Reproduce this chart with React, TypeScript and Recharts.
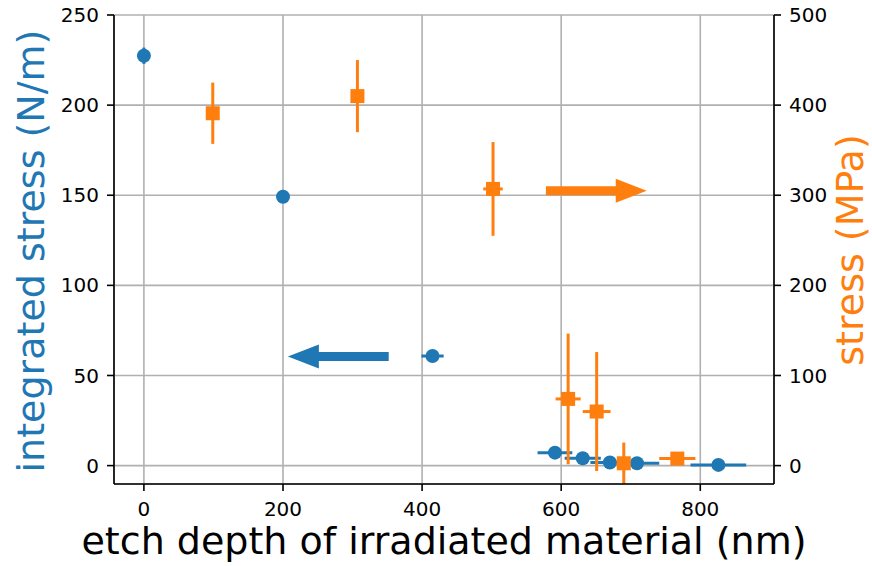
import {
  CartesianGrid,
  ErrorBar,
  ReferenceLine,
  Scatter,
  ScatterChart,
  XAxis,
  YAxis,
} from 'recharts'

const BLUE = '#1f77b4'
const ORANGE = '#ff7f0e'
const FONT = '"DejaVu Sans", sans-serif'

// integrated stress (N/m), left axis
const blueX = [0, 200, 415, 591, 631, 670, 709, 826]
const blueY = [227.4, 149.2, 60.8, 7.2, 4.1, 1.7, 1.3, 0.4]
const blueXErr = [0, 0, 16, 25, 26, 28, 32, 40]
const blueYErr = [4.5, 1, 1.5, 1, 1, 0.5, 0.5, 0.5]

// stress (MPa), right axis
const orangeX = [99, 307, 502, 610, 651, 690, 767]
const orangeY = [391, 410, 307, 74, 60, 2.6, 7.8]
const orangeXErr = [0, 0, 14, 18, 20, 21, 26]
const orangeYErr = [34, 40, 52, 72.5, 66, 23, 3]

const xTicks = [0, 200, 400, 600, 800]
const leftTicks = [0, 50, 100, 150, 200, 250]
const rightTicks = [0, 100, 200, 300, 400, 500]

// arrows: [x1, y1, x2, y2] in data units (tail -> tip)
const blueArrow = [352, 60.6, 207, 60.6]
const orangeArrow = [578, 305, 723, 305]

const blue = blueX.map((x, i) => ({ x, y: blueY[i], ex: blueXErr[i], ey: blueYErr[i] }))
const orange = orangeX.map((x, i) => ({ x, y: orangeY[i], ex: orangeXErr[i], ey: orangeYErr[i] }))

const tickStyle = { fill: '#000', fontSize: 20, fontFamily: FONT }

function arrowShape(color: string) {
  return (p: any) => {
    const { x1, y1, x2, y2 } = p
    const dir = Math.sign(x2 - x1) || 1
    const headLen = 31
    const headW = 12
    const shaftW = 4.5
    const bx = x2 - dir * headLen
    const pts = [
      [x1, y1 - shaftW],
      [bx, y1 - shaftW],
      [bx, y1 - headW],
      [x2, y2],
      [bx, y1 + headW],
      [bx, y1 + shaftW],
      [x1, y1 + shaftW],
    ]
    return <polygon points={pts.map((q) => q.join(',')).join(' ')} fill={color} stroke="none" />
  }
}

const circle = (p: any) => <circle cx={p.cx} cy={p.cy} r={7} fill={BLUE} />
const square = (p: any) => <rect x={p.cx - 7} y={p.cy - 7} width={14} height={14} fill={ORANGE} />

export default function App() {
  return (
    <div style={{ width: 872, height: 566 }}>
      <style>{'body{margin:0}'}</style>
      <ScatterChart width={872} height={566} margin={{ top: 15, right: 0, bottom: 0, left: 0 }}>
        <CartesianGrid yAxisId="left" stroke="#b0b0b0" strokeWidth={1.6} />
        <XAxis
          type="number"
          dataKey="x"
          domain={[-43, 906]}
          ticks={xTicks}
          allowDataOverflow
          height={82}
          stroke="#000"
          strokeWidth={1.6}
          tickSize={7}
          tickMargin={11}
          tick={tickStyle}
          label={{
            content: (p: any) => (
              <text
                x={p.viewBox.x + p.viewBox.width / 2}
                y={554}
                textAnchor="middle"
                fontSize={38}
                fontFamily={FONT}
                fill="#000"
              >
                etch depth of irradiated material (nm)
              </text>
            ),
          }}
        />
        <XAxis xAxisId="top" orientation="top" type="number" domain={[0, 1]} height={0} tick={false} tickLine={false} stroke="#000" strokeWidth={1.6} />
        <YAxis
          yAxisId="left"
          dataKey="y"
          type="number"
          domain={[-10.2, 250]}
          ticks={leftTicks}
          allowDataOverflow
          width={114}
          stroke="#000"
          strokeWidth={1.6}
          tickSize={7}
          tickMargin={8}
          tick={tickStyle}
          label={{
            content: () => (
              <text
                transform="translate(44,251) rotate(-90)"
                textAnchor="middle"
                fontSize={38}
                fontFamily={FONT}
                fill={BLUE}
              >
                integrated stress (N/m)
              </text>
            ),
          }}
        />
        <YAxis
          yAxisId="right"
          dataKey="y"
          orientation="right"
          type="number"
          domain={[-20.4, 500]}
          ticks={rightTicks}
          allowDataOverflow
          width={98}
          stroke="#000"
          strokeWidth={1.6}
          tickSize={7}
          tickMargin={8}
          tick={tickStyle}
          label={{
            content: () => (
              <text
                transform="translate(863,250) rotate(-90)"
                textAnchor="middle"
                fontSize={38}
                fontFamily={FONT}
                fill={ORANGE}
              >
                stress (MPa)
              </text>
            ),
          }}
        />
        <Scatter data={blue} yAxisId="left" shape={circle} isAnimationActive={false}>
          <ErrorBar dataKey="ex" direction="x" width={0} stroke={BLUE} strokeWidth={3} isAnimationActive={false} />
          <ErrorBar dataKey="ey" direction="y" width={0} stroke={BLUE} strokeWidth={3} isAnimationActive={false} />
        </Scatter>
        <Scatter data={orange} yAxisId="right" shape={square} isAnimationActive={false}>
          <ErrorBar dataKey="ex" direction="x" width={0} stroke={ORANGE} strokeWidth={3} isAnimationActive={false} />
          <ErrorBar dataKey="ey" direction="y" width={0} stroke={ORANGE} strokeWidth={3} isAnimationActive={false} />
        </Scatter>
        <ReferenceLine
          yAxisId="left"
          segment={[
            { x: blueArrow[0], y: blueArrow[1] },
            { x: blueArrow[2], y: blueArrow[3] },
          ]}
          shape={arrowShape(BLUE)}
        />
        <ReferenceLine
          yAxisId="right"
          segment={[
            { x: orangeArrow[0], y: orangeArrow[1] },
            { x: orangeArrow[2], y: orangeArrow[3] },
          ]}
          shape={arrowShape(ORANGE)}
        />
      </ScatterChart>
    </div>
  )
}
